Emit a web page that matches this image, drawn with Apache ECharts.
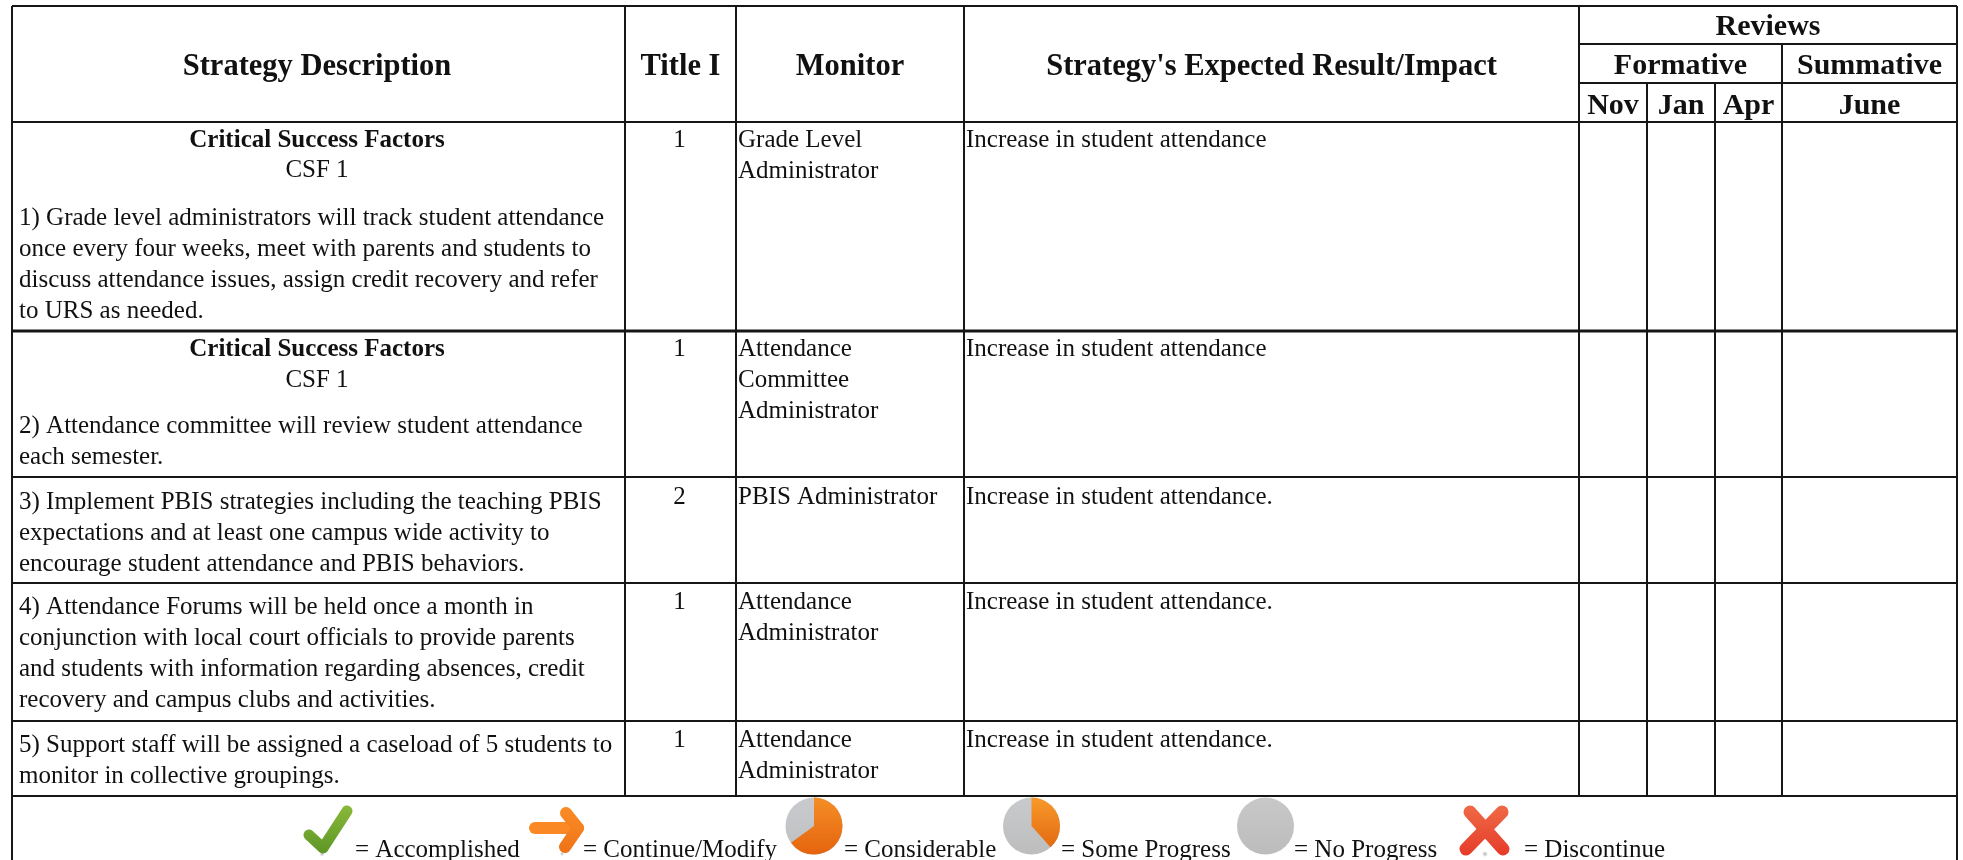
<!DOCTYPE html>
<html>
<head>
<meta charset="utf-8">
<title>Strategy table</title>
<script src="https://cdn.jsdelivr.net/npm/echarts@6/dist/echarts.min.js"></script>
<style>
html, body { margin: 0; padding: 0; background: #fff; }
#chart { width: 1963px; height: 860px; }
</style>
</head>
<body>
<div id="chart"></div>
<script>
// table text
var headers = ['Strategy Description', 'Title I', 'Monitor', "Strategy's Expected Result/Impact"];
var reviewsHeader = 'Reviews';
var reviewGroups = ['Formative', 'Summative'];
var reviewMonths = ['Nov', 'Jan', 'Apr', 'June'];
var csfTitles = ['Critical Success Factors', 'Critical Success Factors', '', '', ''];
var csfCodes = ['CSF 1', 'CSF 1', '', '', ''];
var strategies = [
	['1) Grade level administrators will track student attendance', 'once every four weeks, meet with parents and students to', 'discuss attendance issues, assign credit recovery and refer', 'to URS as needed.'],
	['2) Attendance committee will review student attendance', 'each semester.'],
	['3) Implement PBIS strategies including the teaching PBIS', 'expectations and at least one campus wide activity to', 'encourage student attendance and PBIS behaviors.'],
	['4) Attendance Forums will be held once a month in', 'conjunction with local court officials to provide parents', 'and students with information regarding absences, credit', 'recovery and campus clubs and activities.'],
	['5) Support staff will be assigned a caseload of 5 students to', 'monitor in collective groupings.']
];
var titleOne = ['1', '1', '2', '1', '1'];
var monitors = [
	['Grade Level', 'Administrator'],
	['Attendance', 'Committee', 'Administrator'],
	['PBIS Administrator'],
	['Attendance', 'Administrator'],
	['Attendance', 'Administrator']
];
var results = [
	'Increase in student attendance',
	'Increase in student attendance',
	'Increase in student attendance.',
	'Increase in student attendance.',
	'Increase in student attendance.'
];
var legendLabels = ['= Accomplished', '= Continue/Modify', '= Considerable', '= Some Progress', '= No Progress', '= Discontinue'];

// layout
var W = 1963, H = 860;
var colX = [12, 625, 736, 964, 1579, 1647, 1715, 1782, 1957];
var rowY = [122, 331, 477, 583, 721, 796];
var headTop = 6, reviewRowY = [44, 83];
var csfY = [[141, 170], [350, 380]];
var strategyY = [218, 426, 502, 607, 745];
var cellY = [140, 349, 497, 602, 740];
var lineGap = 31;
var fontFamily = '"Liberation Serif", "Times New Roman", serif';
var bodySize = 25, headSize = 30.5, reviewSize = 30;
var legendTextX = [355, 583, 844, 1061, 1294, 1524];
var legendTextY = 850;
var ink = '#161616';

// grid lines
var rules = [
	[colX[0], headTop, colX[8], headTop, 2],
	[colX[4], reviewRowY[0], colX[8], reviewRowY[0], 2],
	[colX[4], reviewRowY[1], colX[8], reviewRowY[1], 2],
	[colX[0], rowY[0], colX[8], rowY[0], 2],
	[colX[0], rowY[1], colX[8], rowY[1], 3],
	[colX[0], rowY[2], colX[8], rowY[2], 2],
	[colX[0], rowY[3], colX[8], rowY[3], 2],
	[colX[0], rowY[4], colX[8], rowY[4], 2],
	[colX[0], rowY[5], colX[8], rowY[5], 2],
	[colX[0], headTop, colX[0], H, 2],
	[colX[1], headTop, colX[1], rowY[5], 2],
	[colX[2], headTop, colX[2], rowY[5], 2],
	[colX[3], headTop, colX[3], rowY[5], 2],
	[colX[4], headTop, colX[4], rowY[5], 2],
	[colX[5], reviewRowY[1], colX[5], rowY[5], 2],
	[colX[6], reviewRowY[1], colX[6], rowY[5], 2],
	[colX[7], reviewRowY[0], colX[7], rowY[5], 2],
	[colX[8], headTop, colX[8], H, 2]
];

// every text line of the table
var textLines = [];
function addText(x, y, text, align, bold, size) {
	textLines.push({ x: x, y: y, text: text, align: align, bold: bold, size: size });
}
function mid(a, b) {
	return (a + b) / 2;
}
headers.forEach(function(text, i) {
	var cx = i === 0 ? 317 : mid(colX[i], colX[i + 1]);
	addText(cx, 67, text, 'center', true, headSize);
});
addText(mid(colX[4], colX[8]), 27.5, reviewsHeader, 'center', true, reviewSize);
addText(mid(colX[4], colX[7]), 66, reviewGroups[0], 'center', true, reviewSize);
addText(mid(colX[7], colX[8]), 66, reviewGroups[1], 'center', true, reviewSize);
reviewMonths.forEach(function(text, i) {
	addText(mid(colX[4 + i], colX[5 + i]), 106, text, 'center', true, reviewSize);
});
strategies.forEach(function(lines, r) {
	if (csfTitles[r]) {
		addText(317, csfY[r][0], csfTitles[r], 'center', true, bodySize);
		addText(317, csfY[r][1], csfCodes[r], 'center', false, bodySize);
	}
	lines.forEach(function(text, l) {
		addText(19, strategyY[r] + l * lineGap, text, 'left', false, bodySize);
	});
	addText(679.5, cellY[r], titleOne[r], 'center', false, bodySize);
	monitors[r].forEach(function(text, l) {
		addText(colX[2] + 2, cellY[r] + l * lineGap, text, 'left', false, bodySize);
	});
	addText(colX[3] + 2, cellY[r], results[r], 'left', false, bodySize);
});
legendLabels.forEach(function(text, i) {
	addText(legendTextX[i], legendTextY, text, 'left', false, bodySize);
});

function vertical(a, b) {
	return new echarts.graphic.LinearGradient(0, 0, 0, 1, [
		{ offset: 0, color: a },
		{ offset: 1, color: b }
	]);
}
function shadow(cx, cy, rx, ry, api) {
	var c = api.coord([cx, cy]);
	return {
		type: 'ellipse',
		shape: { cx: c[0], cy: c[1], rx: rx, ry: ry },
		style: { fill: new echarts.graphic.RadialGradient(0.5, 0.5, 0.5, [
			{ offset: 0, color: 'rgba(120,120,120,0.55)' },
			{ offset: 1, color: 'rgba(120,120,120,0)' }
		]) }
	};
}
function pie(cx, cy, r, startDeg, endDeg, base, wedge, api) {
	var c = api.coord([cx, cy]);
	return {
		type: 'group',
		children: [
			{ type: 'circle', shape: { cx: c[0], cy: c[1], r: r }, style: { fill: base } },
			{
				type: 'sector',
				shape: { cx: c[0], cy: c[1], r0: 0, r: r, startAngle: startDeg * Math.PI / 180, endAngle: endDeg * Math.PI / 180 },
				style: { fill: wedge }
			}
		]
	};
}
function stroke(points, color, width, api) {
	return {
		type: 'polyline',
		shape: { points: points.map(function(p) { return api.coord(p); }) },
		style: { stroke: color, lineWidth: width, lineCap: 'round', lineJoin: 'round', fill: null }
	};
}

// the six status icons of the key, in key order
var iconDraw = [
	function(api) {
		return { type: 'group', children: [
			shadow(322, 854, 20, 2.5, api),
			stroke([[309, 835], [323, 848], [347, 811]], vertical('#8ab93a', '#5d9626'), 11, api)
		] };
	},
	function(api) {
		return { type: 'group', children: [
			shadow(562, 854, 18, 2, api),
			stroke([[535, 828], [578, 828]], '#f98825', 12, api),
			stroke([[566, 813], [578, 828], [565, 847]], vertical('#fb8c26', '#ee7317'), 12, api)
		] };
	},
	function(api) {
		return pie(814, 826, 28.5, -90, 144, vertical('#c8cacd', '#bfc0c2'), vertical('#f58e25', '#e5640f'), api);
	},
	function(api) {
		return pie(1031.5, 826, 28.5, -90, 48, vertical('#c8cacd', '#bdbdbd'), vertical('#f89a2a', '#e46a12'), api);
	},
	function(api) {
		var c = api.coord([1265.5, 826]);
		return { type: 'circle', shape: { cx: c[0], cy: c[1], r: 28.5 }, style: { fill: vertical('#c8c8c8', '#bcbcbc') } };
	},
	function(api) {
		return { type: 'group', children: [
			shadow(1485, 854, 38, 3, api),
			stroke([[1470, 812], [1503, 849]], vertical('#ef6a46', '#e63b2a'), 13, api),
			stroke([[1502, 812], [1466, 849]], vertical('#ef6a46', '#e63b2a'), 13, api)
		] };
	}
];

var chart = echarts.init(document.getElementById('chart'));
chart.setOption({
	animation: false,
	backgroundColor: '#fff',
	grid: { left: 0, right: 0, top: 0, bottom: 0 },
	xAxis: { type: 'value', min: 0, max: W, show: false },
	yAxis: { type: 'value', min: 0, max: H, inverse: true, show: false },
	series: [
		{
			type: 'custom',
			coordinateSystem: 'cartesian2d',
			silent: true,
			clip: false,
			data: rules,
			encode: { x: [0, 2], y: [1, 3] },
			renderItem: function(params, api) {
				var a = api.coord([api.value(0), api.value(1)]);
				var b = api.coord([api.value(2), api.value(3)]);
				return {
					type: 'line',
					shape: { x1: a[0], y1: a[1], x2: b[0], y2: b[1] },
					style: { stroke: ink, lineWidth: api.value(4) }
				};
			}
		},
		{
			type: 'custom',
			coordinateSystem: 'cartesian2d',
			silent: true,
			clip: false,
			data: iconDraw.map(function(d, i) { return [i]; }),
			renderItem: function(params, api) {
				return iconDraw[params.dataIndex](api);
			}
		},
		{
			type: 'custom',
			coordinateSystem: 'cartesian2d',
			silent: true,
			clip: false,
			data: textLines.map(function(t) { return [t.x, t.y]; }),
			renderItem: function(params, api) {
				var t = textLines[params.dataIndex];
				var p = api.coord([api.value(0), api.value(1)]);
				return {
					type: 'text',
					x: p[0],
					y: p[1],
					style: {
						text: t.text,
						fill: '#111',
						align: t.align,
						verticalAlign: 'middle',
						font: (t.bold ? 'bold ' : '') + t.size + 'px ' + fontFamily
					}
				};
			}
		}
	]
});
</script>
</body>
</html>
